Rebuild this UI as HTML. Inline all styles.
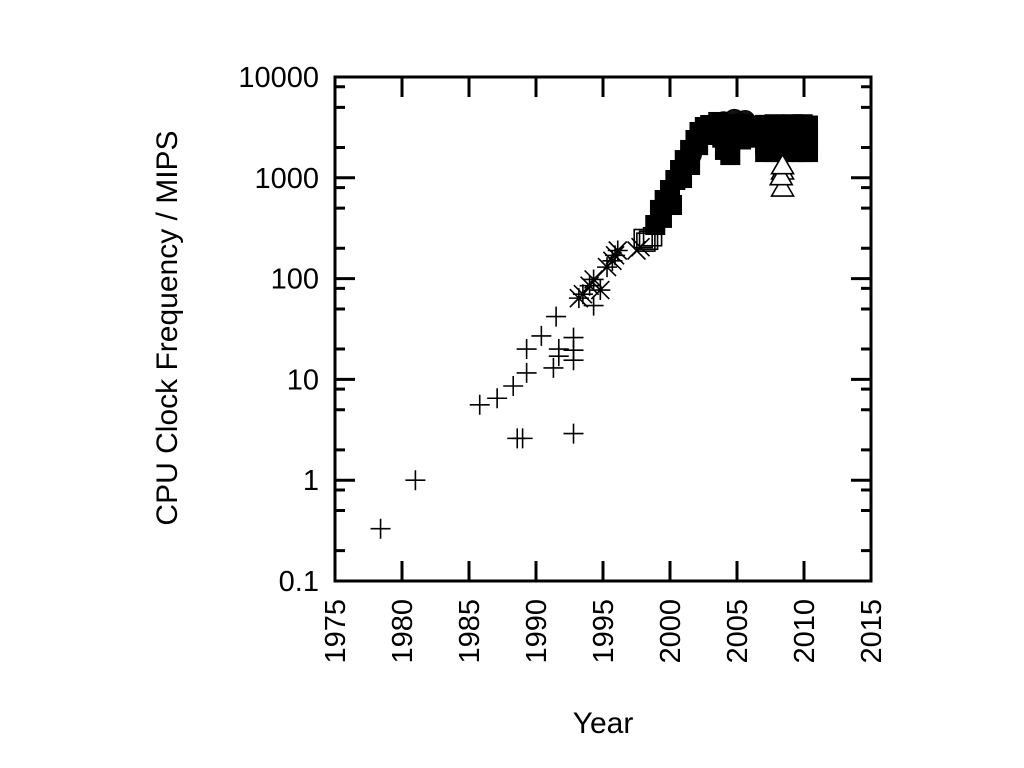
<!DOCTYPE html>
<html><head><meta charset="utf-8"><style>
html,body{margin:0;padding:0;background:#fff;}
svg{display:block;font-family:"Liberation Sans",sans-serif;}
</style></head><body>
<svg id="chart" width="1024" height="768" viewBox="0 0 1024 768">
<g id="marks"></g>
<g id="axes"></g>
<text x="177" y="328" font-size="30" text-anchor="middle" transform="rotate(-90 177 328)">CPU Clock Frequency / MIPS</text>
<text x="603" y="733" font-size="30" text-anchor="middle">Year</text>
</svg>
<script>
const xTicks=[1975,1980,1985,1990,1995,2000,2005,2010,2015];
const yTicks=[0.1,1,10,100,1000,10000];
const yTickLabels=["0.1","1","10","100","1000","10000"];
const yMinor=[2,5,8];
const plusYears=[1978.4,1981.0,1985.8,1987.1,1988.3,1989.3,1989.3,1990.4,1991.5,1991.7,1991.3,1991.7,1992.8,1992.8,1992.8,1992.8,1988.6,1989.0,1994.3];
const plusVals=[0.33,1.0,5.6,6.5,8.6,11.6,20,27,42,20,13,17,26,15.5,19.5,2.9,2.6,2.6,54];
const starYears=[1993.2,1994.3,1994.8,1995.3,1995.9,1996.1,1995.7,1993.5,1994.0];
const starVals=[64,98,77,130,170,190,150,70,85];
const crossYears=[1997.8,1997.5];
const crossVals=[205,190];
const openSqYears=[1998.0,1998.4,1998.7,1998.2];
const openSqVals=[250,240,260,230];
const fillSqYears=[1998.9,1999.25,1999.6,2000.0,2000.4,2000.75,2001.1,2001.5,2001.9,2002.2,2002.6,2003.0,2003.6,2004.1,2004.5,2004.9,1999.4,2000.15,2000.9,2001.5,2002.1,2002.7,2003.3,2003.9,2004.3,
2005.0,2005.5,2006.0,2006.5,2005.3,2005.8,2006.2,
2007.1,2007.1,2007.1,2007.1,2007.1,2007.8,2007.8,2007.8,2007.8,2007.8,2008.5,2008.5,2008.5,2008.5,2008.5,2009.2,2009.2,2009.2,2009.2,2009.2,2009.9,2009.9,2009.9,2009.9,2009.9,2010.3,2010.3,2010.3,2010.3,2010.3];
const fillSqVals=[340,480,602,757,951,1195,1500,1890,2370,2850,3190,3340,3580,1890,1680,3400,400,537,995,1340,2110,2660,2900,2500,2700,
3200,3400,3300,3000,2400,2600,2500,
1800,2150,2550,2950,3350,1800,2150,2550,2950,3400,1800,2150,2550,2950,3300,1800,2150,2550,2950,3400,1800,2150,2550,2950,3400,1800,2150,2550,2950,3300];
const circYears=[2001.2,2001.6,2002.4,2003.2,2004.0,2004.8,2005.6,2006.2,2006.6,2003.8,2004.6,2005.2];
const circVals=[1500,1700,2600,3400,3600,3800,3700,3200,2800,2900,3300,3500];
const triYears=[2008.4,2008.4,2008.3,2008.4];
const triVals=[1195,810,1050,1350];

const X0=335,X1=871,Y0=77,Y1=581;
const xs=y=>X0+(y-1975)/(2015-1975)*(X1-X0);
const ys=v=>Y1-(Math.log10(v)+1)/5*(Y1-Y0);
const NS="http://www.w3.org/2000/svg";
const marks=document.getElementById('marks'),axes=document.getElementById('axes');
function mk(tag,attrs,parent){const e=document.createElementNS(NS,tag);for(const k in attrs)e.setAttribute(k,attrs[k]);parent.appendChild(e);return e;}
const st={stroke:"#000","stroke-width":"1.6",fill:"none"};
function plus(x,y){const e=mk('path',Object.assign({d:`M${x-10} ${y}H${x+10}M${x} ${y-10}V${y+10}`},st),marks);

}
function cross(x,y){const e=mk('path',Object.assign({d:`M${x-9} ${y-9}L${x+9} ${y+9}M${x-9} ${y+9}L${x+9} ${y-9}`},st),marks);

}
function star(x,y){const e=mk('path',Object.assign({d:`M${x-10} ${y}H${x+10}M${x} ${y-10}V${y+10}M${x-9} ${y-9}L${x+9} ${y+9}M${x-9} ${y+9}L${x+9} ${y-9}`},st),marks);

}
function osq(x,y){const e=mk('rect',Object.assign({x:x-9,y:y-9,width:18,height:18},st),marks);

}
function fsq(x,y){const e=mk('rect',{x:x-10,y:y-10,width:20,height:20,fill:"#000"},marks);

}
function circ(x,y){const e=mk('circle',{cx:x,cy:y,r:10,fill:"#111",stroke:"#000"},marks);

}
function tri(x,y){const e=mk('path',{d:`M${x} ${y-10}L${x+11} ${y+9}L${x-11} ${y+9}Z`,fill:"#fff",stroke:"#000","stroke-width":"1.6"},marks);

}
plusYears.forEach((yr,i)=>plus(xs(yr),ys(plusVals[i])));
starYears.forEach((yr,i)=>star(xs(yr),ys(starVals[i])));
crossYears.forEach((yr,i)=>cross(xs(yr),ys(crossVals[i])));
openSqYears.forEach((yr,i)=>osq(xs(yr),ys(openSqVals[i])));
circYears.forEach((yr,i)=>circ(xs(yr),ys(circVals[i])));
fillSqYears.forEach((yr,i)=>fsq(xs(yr),ys(fillSqVals[i])));
triYears.forEach((yr,i)=>tri(xs(yr),ys(triVals[i])));

const frame=mk('rect',{x:X0,y:Y0,width:X1-X0,height:Y1-Y0,fill:"none",stroke:"#000","stroke-width":"3"},axes);


xTicks.forEach(t=>{const x=xs(t);
 const tk=mk('path',{d:`M${x} ${Y1}V${Y1-20}M${x} ${Y0}V${Y0+20}`,stroke:"#000","stroke-width":"3"},axes);
 
 
 const tx=mk('text',{x:x+10,y:599,"font-size":"29","text-anchor":"end",transform:`rotate(-90 ${x+10} 599)`},axes);
 tx.textContent=String(t);
 
 });
yTicks.forEach((t,i)=>{const y=ys(t);
 const tk=mk('path',{d:`M${X0} ${y}H${X0+20}M${X1} ${y}H${X1-20}`,stroke:"#000","stroke-width":"3"},axes);
 
 
 const tx=mk('text',{x:319,y:y+10,"font-size":"29","text-anchor":"end"},axes);
 tx.textContent=yTickLabels[i];
 
 
 if(i<yTicks.length-1) yMinor.forEach(m=>{const yy=ys(t*m);
  const mt=mk('path',{d:`M${X0} ${yy}H${X0+10}M${X1} ${yy}H${X1-10}`,stroke:"#000","stroke-width":"3"},axes);
  
  });});
</script>
</body></html>
